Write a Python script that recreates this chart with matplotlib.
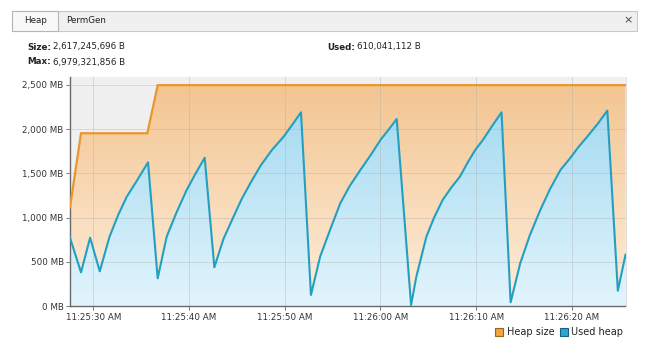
import matplotlib
matplotlib.use("Agg")
import matplotlib.pyplot as plt
import numpy as np
from matplotlib.patches import Rectangle, Patch

# ---------------- data ----------------
# time in seconds relative to 11:25:30 AM
heap_t = [-2.43, -1.28, 5.65, 6.73, 55.6]
heap_mb = [1117, 1953, 1953, 2496, 2496]

used_t = [-2.43, -1.28, -0.33, 0.68, 1.7, 2.6, 3.5, 4.6, 5.72, 6.73, 7.67, 8.7, 9.76,
          10.7, 11.64, 12.65, 13.6, 14.65, 15.5, 16.4, 17.5, 18.66, 19.88, 20.8, 21.7,
          22.74, 23.7, 24.8, 25.8, 26.8, 27.9, 29.0, 30.0, 30.9, 31.7, 33.2, 33.75,
          34.8, 35.6, 36.5, 37.4, 38.3, 39.1, 39.9, 40.7, 41.7, 42.65, 43.6, 44.6,
          45.6, 46.7, 47.7, 48.8, 49.8, 50.7, 51.6, 52.7, 53.7, 54.8, 55.6]
used_mb = [774, 383, 774, 395, 786, 1030, 1237, 1425, 1625, 316, 786, 1060, 1313,
           1500, 1677, 440, 760, 1011, 1210, 1388, 1590, 1764, 1914, 2050, 2190,
           128, 560, 880, 1162, 1360, 1538, 1710, 1877, 2000, 2114, 15, 334,
           786, 1000, 1200, 1340, 1463, 1620, 1764, 1877, 2040, 2190, 45, 485,
           800, 1087, 1320, 1538, 1670, 1800, 1914, 2060, 2208, 176, 582]

x_ticks = [0, 10, 20, 30, 40, 50]
x_labels = ["11:25:30 AM", "11:25:40 AM", "11:25:50 AM", "11:26:00 AM",
            "11:26:10 AM", "11:26:20 AM"]
y_ticks = [0, 500, 1000, 1500, 2000, 2500]
y_labels = ["0 MB", "500 MB", "1,000 MB", "1,500 MB", "2,000 MB", "2,500 MB"]

tabs = ["Heap", "PermGen"]
size_txt = "2,617,245,696 B"
max_txt = "6,979,321,856 B"
used_txt = "610,041,112 B"
legend_labels = ["Heap size", "Used heap"]

# ---------------- figure ----------------
W, H = 649, 347
fig = plt.figure(figsize=(W / 100, H / 100), dpi=100)
fig.patch.set_facecolor("white")
plt.rcParams['font.family'] = ['DejaVu Sans']

def fx(px):
    return px / W

def fy(py):
    return 1 - py / H

FS = 6.3
TXT = "#222222"

# tab bar
fig.add_artist(Rectangle((fx(12), fy(31)), fx(625), 20 / H, transform=fig.transFigure,
                         facecolor="#f0f0f0", edgecolor="#c9c9c9", lw=0.8))
fig.add_artist(Rectangle((fx(12), fy(31)), fx(46), 20 / H, transform=fig.transFigure,
                         facecolor="#f8f8f8", edgecolor="#b5b5b5", lw=0.8))
fig.text(fx(24), fy(20.5), tabs[0], fontsize=FS, color=TXT, va="center", ha="left")
fig.text(fx(66), fy(20.5), tabs[1], fontsize=FS, color=TXT, va="center", ha="left")
fig.text(fx(628), fy(20.5), "\u00d7", fontsize=8, color="#444444", va="center", ha="center")

# header texts with bold label
renderer = fig.canvas.get_renderer()

def label_value(x, y, lab, val):
    t = fig.text(fx(x), fy(y), lab, fontsize=FS, fontweight="bold", color=TXT,
                 va="center", ha="left")
    bb = t.get_window_extent(renderer=renderer)
    fig.text(fx(x) + (bb.width + 2) / W, fy(y), val, fontsize=FS, color=TXT,
             va="center", ha="left")

label_value(27, 47, "Size:", size_txt)
label_value(27, 62, "Max:", max_txt)
label_value(327, 47, "Used:", used_txt)

# ---------------- axes ----------------
left, right, top, bottom = 70, 625.5, 77, 306.3
ax = fig.add_axes([fx(left), fy(bottom), (right - left) / W, (bottom - top) / H])
ax.set_facecolor("#f0f0f0")
xmin, xmax = -2.43, 55.6
ymin, ymax = 0, 2588
ax.set_xlim(xmin, xmax)
ax.set_ylim(ymin, ymax)

def gradient_fill(x, y, c_top, c_bot, z):
    poly = ax.fill_between(x, y, 0, facecolor="none", edgecolor="none", zorder=z)
    c_top = np.array(matplotlib.colors.to_rgb(c_top))
    c_bot = np.array(matplotlib.colors.to_rgb(c_bot))
    n = 256
    f = np.linspace(0, 1, n)[:, None]
    grad = (c_top * (1 - f) + c_bot * f)[:, None, :]
    im = ax.imshow(grad, extent=[xmin, xmax, ymin, 2500], origin="upper",
                   aspect="auto", zorder=z, interpolation="bilinear")
    im.set_clip_path(poly.get_paths()[0], transform=ax.transData)
    ax.set_xlim(xmin, xmax)
    ax.set_ylim(ymin, ymax)

gradient_fill(heap_t, heap_mb, "#f3c591", "#feeedc", 1)
gradient_fill(used_t, used_mb, "#9fd7ef", "#e2f5fd", 2)

ax.plot(heap_t, heap_mb, color="#e8972e", lw=1.6, zorder=4, solid_joinstyle="miter")
ax.plot(used_t, used_mb, color="#229fc1", lw=1.5, zorder=5)

# grid
for xv in x_ticks:
    ax.axvline(xv, color="#b0b0b0", lw=0.6, alpha=0.45, zorder=3)
for yv in y_ticks[1:]:
    ax.axhline(yv, color="#b0b0b0", lw=0.6, alpha=0.45, zorder=3)

ax.set_xticks(x_ticks)
ax.set_xticklabels(x_labels, fontsize=FS, color="#333333")
ax.set_yticks(y_ticks)
ax.set_yticklabels(y_labels, fontsize=FS, color="#333333")
ax.tick_params(axis="both", length=3, width=0.7, color="#777777", pad=1.5)
ax.spines["top"].set_visible(False)
ax.spines["right"].set_color("#d8d8d8")
ax.spines["right"].set_linewidth(0.6)
for s in ["left", "bottom"]:
    ax.spines[s].set_color("#6a6a6a")
    ax.spines[s].set_linewidth(1.0)

# legend
handles = [Patch(facecolor="#f2a540", edgecolor="#9a6420", lw=0.8),
           Patch(facecolor="#2aa6cf", edgecolor="#1a5f80", lw=0.8)]
fig.legend(handles, legend_labels, loc="center right",
           bbox_to_anchor=(fx(629), fy(332)), ncol=2, frameon=False,
           fontsize=7, handlelength=0.8, handleheight=0.9,
           handletextpad=0.35, columnspacing=0.6, borderpad=0.1,
           labelcolor="#222222")

fig.savefig("out.png", dpi=100, facecolor="white")
